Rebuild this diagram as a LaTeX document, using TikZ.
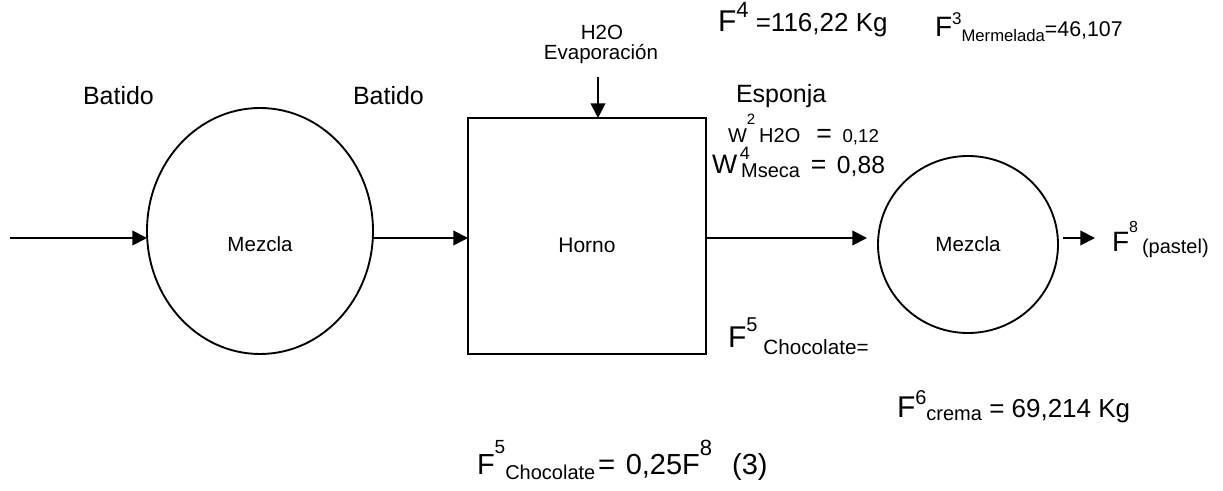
\documentclass[tikz,border=0pt]{standalone}
\usepackage{fontspec}
\setmainfont{Liberation Sans}
\usetikzlibrary{arrows.meta, shapes.geometric, positioning}
\newcommand{\fsz}[1]{\fontsize{#1}{#1}\selectfont}

\begin{document}
\begin{tikzpicture}[x=0.75pt, y=-0.75pt,
    flow/.style={line width=1.4pt, -{Triangle[length=11pt, width=11pt]}},
    unit/.style={draw, line width=1.4pt, inner sep=0pt, outer sep=0pt},
    txt/.style={inner sep=0pt, outer sep=0pt, anchor=base west}]
      \useasboundingbox (0,0) rectangle (1223,491);

      % units
      \node[unit, ellipse, minimum width=169.5pt, minimum height=184.5pt,
            label={[yshift=-9.75pt]center:{\fsz{15.4pt}Mezcla}}] (mix1) at (260,231) {};
      \node[unit, rectangle, minimum width=178.5pt, minimum height=177pt,
            label={[yshift=-6.75pt]center:{\fsz{15.75pt}Horno}}] (oven) at (587,236) {};
      \node[unit, ellipse, minimum width=135pt, minimum height=132.75pt] (mix2) at (968,244.5) {\fsz{15.4pt}Mezcla};

      % streams
      \coordinate (in) at (10,238);
      \coordinate (vap) at (598,77);
      \node[txt] (f8) at (1112,252) {\fsz{21pt}F\raisebox{14.25pt}{\fsz{12pt}8}\hspace{3pt}\raisebox{-1pt}{\fsz{15pt}(pastel)}};

      \draw[flow] (in) -- (in -| mix1.west);
      \draw[flow] (mix1.east |- in) -- (in -| oven.west);
      \draw[flow, shorten >=8.25pt] (oven.east |- in) -- (in -| mix2.west);
      \draw[flow, shorten <=3.75pt, shorten >=12.75pt] (mix2.east |- in) -- (f8.west |- in);
      \draw[flow] (vap) -- (vap |- oven.north);

      % labels
      \node[txt] (bat1) at (83,105) {\fsz{18.75pt}Batido};
      \node[txt] (bat2) at (353,105) {\fsz{18.75pt}Batido};
      \node[txt, anchor=base] (h2o) at (602,40) {\fsz{15.4pt}H2O};
      \node[txt, anchor=base] (evap) at (601,60) {\fsz{15.4pt}Evaporación};
      \node[txt] (esp) at (736,103) {\fsz{18.75pt}Esponja};
      \node[txt] (f4) at (718,32) {\fsz{22.5pt}F\raisebox{10.5pt}{\fsz{16.5pt}4}\fsz{19.5pt} =116,22 Kg};
      \node[txt] (f3) at (935,37) {\fsz{21pt}F\raisebox{9pt}{\fsz{12.75pt}3}\raisebox{-3.75pt}{\fsz{12.5pt}Mermelada}\fsz{16pt}=46,107};
      \node[txt] (w2) at (728,143) {\fsz{15pt}W\raisebox{13.5pt}{\fsz{11.25pt}2}\hspace{3pt}H2O\hspace{12pt}\fsz{20pt}=\hspace{8pt}\fsz{14pt}0,12};
      \node[txt] (w4) at (712,174) {\fsz{20pt}W\hspace{2pt}\rlap{\raisebox{10.5pt}{\fsz{13.5pt}4}}\hspace{1pt}\raisebox{-3pt}{\fsz{15pt}Mseca}\hspace{8pt}\fsz{20pt}=\hspace{8pt}\fsz{18.5pt}0,88};
      \node[txt] (f5) at (728,348) {\fsz{22.5pt}F\raisebox{12.75pt}{\fsz{15pt}5}\hspace{4.5pt}\raisebox{-5.25pt}{\fsz{15.5pt}Chocolate=}};
      \node[txt] (f6) at (897,417) {\fsz{22.5pt}F\raisebox{9.75pt}{\fsz{15pt}6}\raisebox{-2.25pt}{\fsz{15pt}crema}\fsz{19.5pt} = 69,214 Kg};
      \node[txt] (eq3) at (477,474) {\fsz{21.75pt}F\raisebox{15.75pt}{\fsz{14.25pt}5}\raisebox{-3.75pt}{\fsz{15pt}Chocolate}\hspace{2pt}\fsz{22pt}=\hspace{8pt}\fsz{21.75pt}0,25F\raisebox{14.25pt}{\fsz{16.5pt}8}\hspace{15pt}(3)};
    \end{tikzpicture}
\end{document}
